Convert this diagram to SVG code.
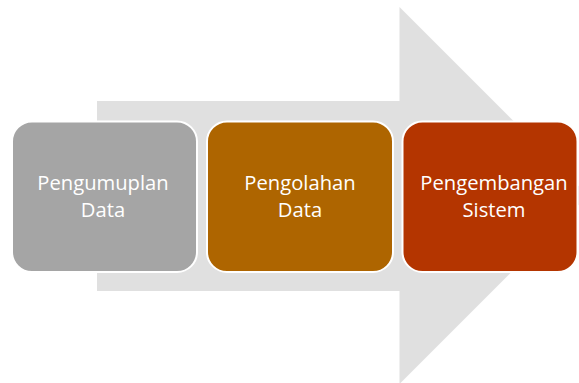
<svg xmlns="http://www.w3.org/2000/svg" width="579" height="383" viewBox="0 0 579 383">
<style>
.box{stroke:#FFFFFF;stroke-width:2}
.t{font-family:"Open Sans","Liberation Sans",sans-serif;font-size:20.2px;fill:#FFFFFF;text-anchor:middle}
</style>
<rect width="579" height="383" fill="#FFFFFF"/>
<g id="arrow">
<polygon points="97,101 399.5,101 399.5,7 588,195.5 399.5,384 399.5,291 97,291" fill="#E0E0E0"/>
</g>
<g id="connectors"></g>
<g id="node1">
<rect class="box" x="12" y="121.5" width="185" height="150.5" rx="20" fill="#A5A5A5"/>
<text class="t" x="103" y="190">Pengumuplan</text>
<text class="t" x="103" y="217">Data</text>
</g>
<g id="node2">
<rect class="box" x="207" y="121.5" width="186" height="150.5" rx="20" fill="#AE6500"/>
<text class="t" x="300" y="190">Pengolahan</text>
<text class="t" x="300" y="217">Data</text>
</g>
<g id="node3">
<rect class="box" x="402.5" y="121.5" width="175" height="150.5" rx="20" fill="#B43500"/>
<text class="t" x="494" y="190">Pengembangan</text>
<text class="t" x="494" y="217">Sistem</text>
</g>
</svg>
